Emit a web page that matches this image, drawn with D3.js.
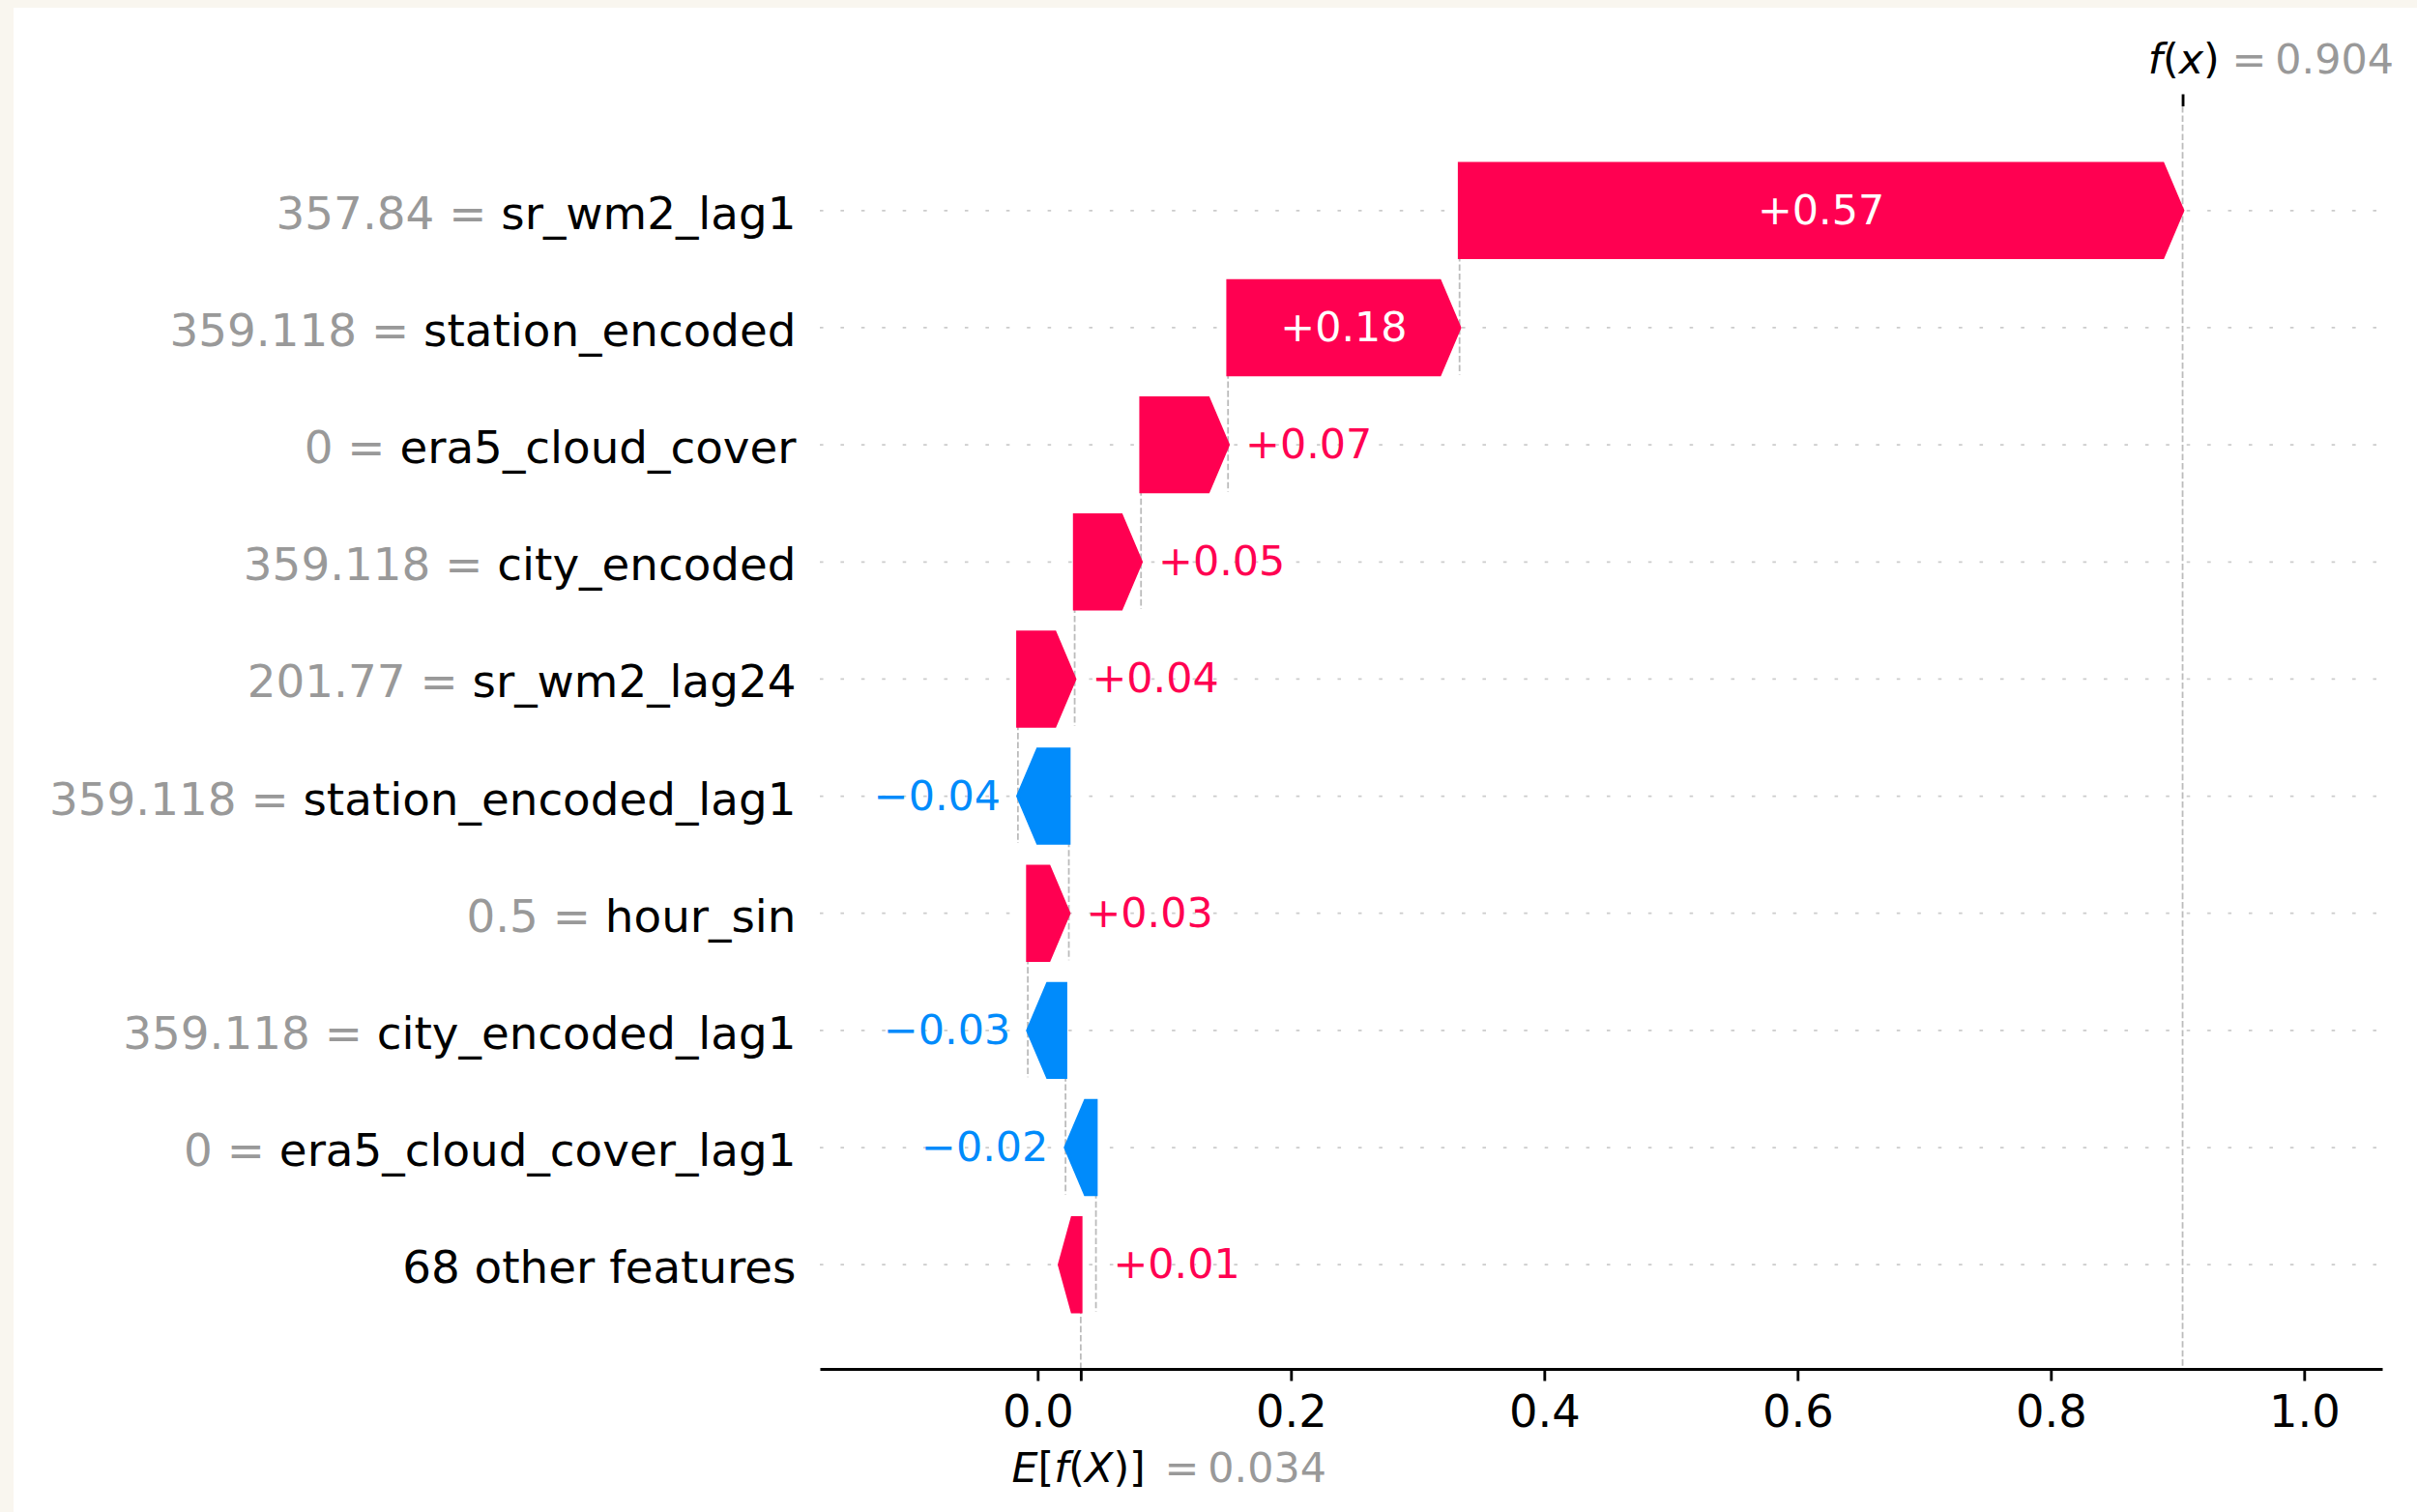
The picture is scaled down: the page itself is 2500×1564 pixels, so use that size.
<!DOCTYPE html>
<html>
<head>
<meta charset="utf-8">
<script src="https://cdn.jsdelivr.net/npm/d3@7"></script>
<style>
  html, body { margin: 0; padding: 0; background: #f9f6ef; }
  svg { display: block; font-family: "DejaVu Sans", sans-serif; }
</style>
</head>
<body>
<svg id="chart" width="2500" height="1564"></svg>
<script>
// Feature rows, top to bottom
const featureNames = [
  "sr_wm2_lag1", "station_encoded", "era5_cloud_cover", "city_encoded",
  "sr_wm2_lag24", "station_encoded_lag1", "hour_sin", "city_encoded_lag1",
  "era5_cloud_cover_lag1", "68 other features"
];
const featureValues = [
  "357.84", "359.118", "0", "359.118", "201.77", "359.118", "0.5", "359.118", "0", null
];
// SHAP contribution of each row
const shapValues = [
  0.5709, 0.1828, 0.0687, 0.0524, 0.0448, -0.0402, 0.0324, -0.0298, -0.0240, 0.0120
];
const baseValue = 0.034;   // E[f(X)]
const fxValue = 0.904;     // f(x)
const xTickValues = [0.0, 0.2, 0.4, 0.6, 0.8, 1.0];

// ---- layout / style ----
const W = 2500, H = 1564;
const plot = { left: 848, right: 2464, top: 110, bottom: 1416 };
const xDomain = [-0.172, 1.0616];
const RED = "#ff0051", BLUE = "#008bfb", GREY = "#999999";
const PT = 3.57;                 // pixels per point
const fsLabel = 13 * PT;         // x tick labels
const fsYLabel = 46.8;           // y labels
const fsSmall = 12 * PT;         // bar values, f(x), E[f(X)]
const headLen = 0.08 * 72 * PT;  // arrow head length in px
const n = featureNames.length;

const svg = d3.select("#chart");
svg.append("rect")
  .attr("x", 14).attr("y", 8)
  .attr("width", W - 14).attr("height", H - 8)
  .attr("fill", "#ffffff");

const x = d3.scaleLinear().domain(xDomain).range([plot.left, plot.right]);
const y = d3.scaleLinear().domain([-0.89, n - 1 + 0.89]).range([plot.bottom, plot.top]);
const rowOf = i => n - 1 - i;

// cumulative start / end of each bar (built up from the base value)
const starts = new Array(n), ends = new Array(n);
let cum = baseValue;
for (let i = n - 1; i >= 0; i--) {
  starts[i] = cum;
  cum += shapValues[i];
  ends[i] = cum;
}

const back = svg.append("g");

// dotted row guides
back.selectAll("line.grid")
  .data(featureNames)
  .join("line")
  .attr("x1", plot.left).attr("x2", plot.right)
  .attr("y1", (d, i) => y(rowOf(i))).attr("y2", (d, i) => y(rowOf(i)))
  .attr("stroke", "#cccccc").attr("stroke-width", 0.5 * PT)
  .attr("stroke-dasharray", `${1 * PT} ${5 * PT}`);

// dashed connectors between consecutive bars
const dash = `${1.85 * PT} ${0.8 * PT}`;
back.selectAll("line.conn")
  .data(d3.range(n - 1))
  .join("line")
  .attr("x1", i => x(starts[i])).attr("x2", i => x(starts[i]))
  .attr("y1", i => y(rowOf(i) + 0.4)).attr("y2", i => y(rowOf(i) - 1 - 0.4))
  .attr("stroke", "#bbbbbb").attr("stroke-width", 0.5 * PT)
  .attr("stroke-dasharray", dash);

// f(x) line across the whole plot, E[f(X)] line in the bottom row
back.append("line")
  .attr("x1", x(fxValue)).attr("x2", x(fxValue))
  .attr("y1", plot.top).attr("y2", plot.bottom)
  .attr("stroke", "#bbbbbb").attr("stroke-width", 0.5 * PT)
  .attr("stroke-dasharray", dash);
back.append("line")
  .attr("x1", x(baseValue)).attr("x2", x(baseValue))
  .attr("y1", plot.bottom).attr("y2", plot.bottom - (plot.bottom - plot.top) / n)
  .attr("stroke", "#bbbbbb").attr("stroke-width", 0.5 * PT)
  .attr("stroke-dasharray", dash);

// arrow-shaped bars
const halfH = (y(0) - y(1)) * 0.4;
function arrowPoints(i) {
  const x0 = x(starts[i]), x1 = x(ends[i]);
  const yc = y(rowOf(i));
  const w = x1 - x0, dir = w >= 0 ? 1 : -1, aw = Math.abs(w);
  if (aw >= headLen) {
    return [[x0, yc - halfH], [x1 - dir * headLen, yc - halfH], [x1, yc],
            [x1 - dir * headLen, yc + halfH], [x0, yc + halfH]];
  }
  // very short contribution: head folds back behind the start point
  return [[x0, yc - halfH], [x0 - dir * 0.55 * aw, yc - halfH], [x0 - dir * 1.4 * aw, yc],
          [x0 - dir * 0.55 * aw, yc + halfH], [x0, yc + halfH]];
}
svg.append("g").selectAll("polygon")
  .data(d3.range(n))
  .join("polygon")
  .attr("points", i => arrowPoints(i).map(p => p.join(",")).join(" "))
  .attr("fill", i => shapValues[i] >= 0 ? RED : BLUE)
  .attr("stroke", i => shapValues[i] >= 0 ? RED : BLUE)
  .attr("stroke-width", PT)
  .attr("stroke-linejoin", "miter");

// value labels: inside (white) when they fit, otherwise beside the tip
const fmtSigned = d3.format("+.2f");
const gap = 5 * PT;
const valG = svg.append("g").attr("font-size", fsSmall);
d3.range(n).forEach(i => {
  const v = shapValues[i];
  const x0 = x(starts[i]), x1 = x(ends[i]);
  const t = valG.append("text")
    .attr("x", (x0 + x1) / 2)
    .attr("y", y(rowOf(i)) + 14)
    .attr("text-anchor", "middle")
    .attr("fill", "#ffffff")
    .text(fmtSigned(v));
  const tw = t.node().getComputedTextLength();
  if (tw > Math.abs(x1 - x0)) {
    if (v >= 0) {
      t.attr("x", x1 + gap).attr("text-anchor", "start").attr("fill", RED);
    } else {
      t.attr("x", x1 - gap).attr("text-anchor", "end").attr("fill", BLUE);
    }
  }
});

// y labels: grey "value =" followed by the black feature name
const labG = svg.append("g").attr("font-size", fsYLabel).attr("text-anchor", "end");
featureNames.forEach((name, i) => {
  const t = labG.append("text")
    .attr("x", plot.left - 7 * PT + 0.5)
    .attr("y", y(rowOf(i)) + 19);
  if (featureValues[i] !== null) {
    t.append("tspan").attr("fill", GREY).text(featureValues[i] + " =");
    t.append("tspan").attr("fill", "#000000").text(" " + name);
  } else {
    t.append("tspan").attr("fill", "#000000").text(name);
  }
});

// bottom axis
const axisG = svg.append("g")
  .attr("transform", `translate(0,${plot.bottom})`)
  .call(d3.axisBottom(x).tickValues(xTickValues).tickFormat(d3.format(".1f"))
    .tickSizeInner(3.5 * PT).tickSizeOuter(0).tickPadding(3.5 * PT + 2));
axisG.attr("font-family", null).attr("font-size", fsLabel);
axisG.select(".domain").attr("stroke", "#000").attr("stroke-width", 0.8 * PT);
axisG.selectAll(".tick line").attr("stroke", "#000").attr("stroke-width", 0.8 * PT);
axisG.selectAll(".tick text").attr("fill", "#000");

// extra bottom tick at E[f(X)]
const baseTick = svg.append("g")
  .attr("transform", `translate(0,${plot.bottom})`)
  .call(d3.axisBottom(x).tickValues([baseValue]).tickFormat(() => "")
    .tickSizeInner(3.5 * PT).tickSizeOuter(0));
baseTick.select(".domain").remove();
baseTick.selectAll(".tick line").attr("stroke", "#000").attr("stroke-width", 0.8 * PT);

// top tick at f(x)
const topTick = svg.append("g")
  .attr("transform", `translate(0,${plot.top})`)
  .call(d3.axisTop(x).tickValues([fxValue]).tickFormat(() => "")
    .tickSizeInner(3.5 * PT).tickSizeOuter(0));
topTick.select(".domain").remove();
topTick.selectAll(".tick line").attr("stroke", "#000").attr("stroke-width", 0.8 * PT);

const fmt3 = d3.format(".3f");

// f(x) = ... label above the plot
const fxText = svg.append("text")
  .attr("x", x(fxValue) - 10 * PT)
  .attr("y", 76)
  .attr("font-size", fsSmall);
fxText.append("tspan").attr("font-style", "italic").text("f");
fxText.append("tspan").text("(");
fxText.append("tspan").attr("font-style", "italic").text("x");
fxText.append("tspan").text(")");
const fxVal = svg.append("text")
  .attr("x", x(fxValue) + 12 * PT)
  .attr("y", 76)
  .attr("font-size", fsSmall)
  .attr("fill", GREY);
fxVal.append("tspan").attr("dx", 8).text("=");
fxVal.append("tspan").attr("dx", 9).text(fmt3(fxValue));

// E[f(X)] = ... label below the axis
const efText = svg.append("text")
  .attr("x", x(baseValue) - 20 * PT)
  .attr("y", 1533)
  .attr("font-size", fsSmall);
efText.append("tspan").attr("font-style", "italic").text("E");
efText.append("tspan").text("[");
efText.append("tspan").attr("font-style", "italic").text("f");
efText.append("tspan").text("(");
efText.append("tspan").attr("font-style", "italic").text("X");
efText.append("tspan").text(")]");
const efVal = svg.append("text")
  .attr("x", x(baseValue) + 22 * PT)
  .attr("y", 1533)
  .attr("font-size", fsSmall)
  .attr("fill", GREY);
efVal.append("tspan").attr("dx", 8).text("=");
efVal.append("tspan").attr("dx", 9).text(fmt3(baseValue));
</script>
</body>
</html>
